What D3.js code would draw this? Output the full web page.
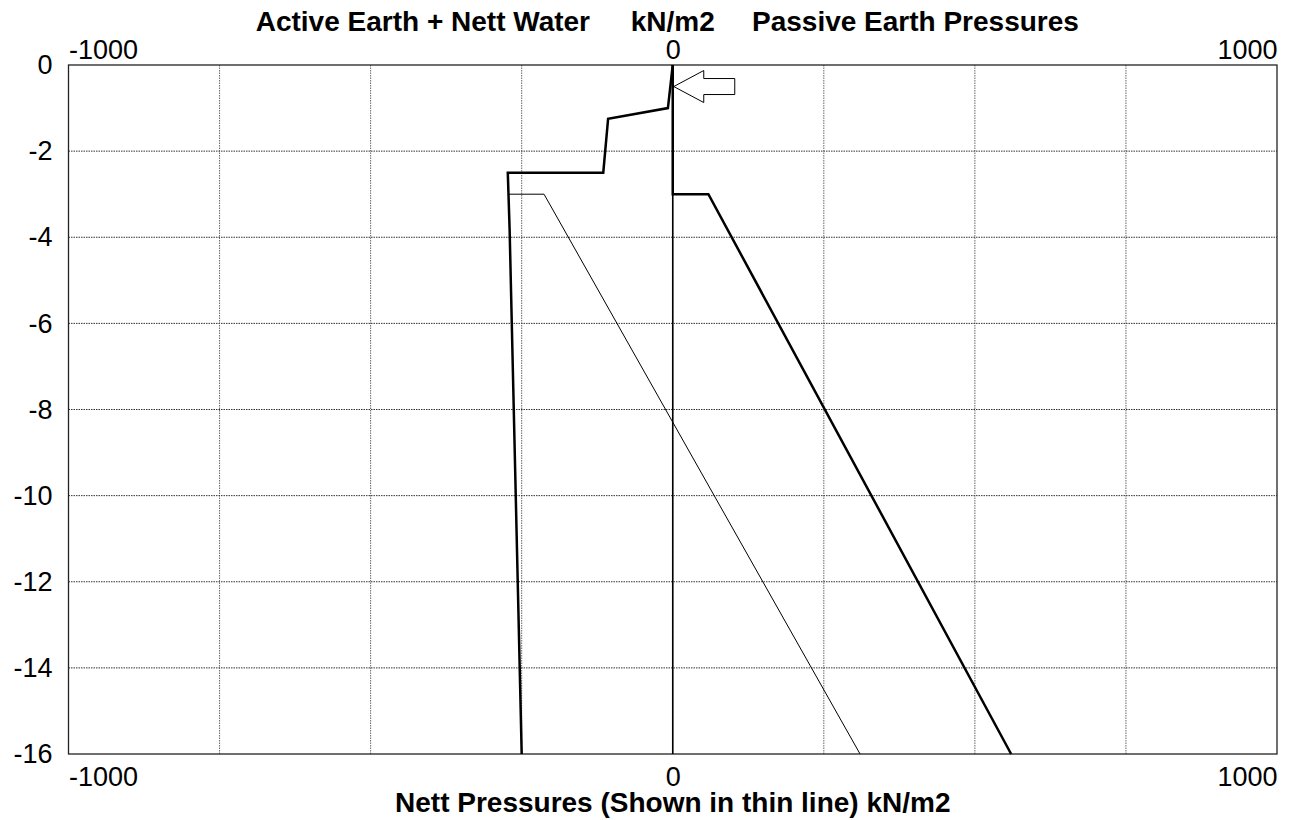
<!DOCTYPE html>
<html>
<head>
<meta charset="utf-8">
<script src="https://cdn.jsdelivr.net/npm/d3@7"></script>
<style>
  html, body { margin: 0; padding: 0; background: #fff; }
  svg { display: block; font-family: "Liberation Sans", Arial, sans-serif; }
</style>
</head>
<body>
<svg id="chart" width="1292" height="820"></svg>
<script>
// ---- data ----
const xTicks = [-1000, 0, 1000];
const yTicks = [0, -2, -4, -6, -8, -10, -12, -14, -16];
const xGrid = [-750, -500, -250, 0, 250, 500, 750];
// Active earth + nett water (thick, left side): [pressure, level]
const activePressure = [0, -8, -107, -115, -273, -270, -250];
const activeLevel    = [0, -1.0, -1.25, -2.5, -2.5, -3.8, -16];
// Passive earth pressures (thick, right side)
const passivePressure = [0, 0, 59, 560];
const passiveLevel    = [0, -3, -3, -16];
// Nett pressures (thin line)
const nettPressure = [-271, -213, 310];
const nettLevel    = [-3, -3, -16];
// Wall
const wallPressure = [0, 0];
const wallLevel = [0, -16];
// Prop level (arrow)
const propLevels = [-0.5];

const titleLeft = "Active Earth + Nett Water";
const titleMid = "kN/m2";
const titleRight = "Passive Earth Pressures";
const bottomTitle = "Nett Pressures (Shown in thin line) kN/m2";

// ---- layout ----
const svg = d3.select("#chart");
const L = 68.5, R = 1277, T = 65, B = 754;
const x = d3.scaleLinear().domain([-1000, 1000]).range([L, R]);
const y = d3.scaleLinear().domain([0, -16]).range([T, B]);
const fmt = d => String(d);

// grid
svg.append("g").selectAll("line").data(xGrid).join("line")
  .attr("x1", d => x(d)).attr("x2", d => x(d))
  .attr("y1", T).attr("y2", B)
  .attr("stroke", "#666").attr("stroke-width", 1).attr("stroke-dasharray", "1.5,1");
svg.append("g").selectAll("line").data(yTicks.slice(1, -1)).join("line")
  .attr("x1", L).attr("x2", R)
  .attr("y1", d => y(d)).attr("y2", d => y(d))
  .attr("stroke", "#333").attr("stroke-width", 1).attr("stroke-dasharray", "1.5,1");

// frame
svg.append("rect").attr("x", L).attr("y", T).attr("width", R - L).attr("height", B - T)
  .attr("fill", "none").attr("stroke", "#222").attr("stroke-width", 1.3);

// axes
const tickFont = "27px";
const ff = "'Liberation Sans', Arial, sans-serif";
const left = svg.append("g").attr("transform", `translate(${L},0)`)
  .call(d3.axisLeft(y).tickValues(yTicks).tickSize(0).tickPadding(16).tickFormat(fmt));
left.select(".domain").remove();
left.selectAll("text").attr("font-size", tickFont).attr("fill", "#000").attr("font-family", ff);

function hAxis(g) {
  g.select(".domain").remove();
  g.selectAll("text").attr("font-size", tickFont).attr("fill", "#000").attr("font-family", ff)
    .attr("text-anchor", (d, i, n) => i === 0 ? "start" : (i === n.length - 1 ? "end" : "middle"));
}
const topAx = svg.append("g").attr("transform", `translate(0,${T})`)
  .call(d3.axisTop(x).tickValues(xTicks).tickSize(0).tickPadding(6).tickFormat(fmt));
hAxis(topAx);
const botAx = svg.append("g").attr("transform", `translate(0,${B})`)
  .call(d3.axisBottom(x).tickValues(xTicks).tickSize(0).tickPadding(13).tickFormat(fmt));
hAxis(botAx);

// lines
const line = d3.line().x(d => x(d[0])).y(d => y(d[1]));
const zip = (a, b) => a.map((v, i) => [v, b[i]]);

svg.append("path").datum(zip(wallPressure, wallLevel)).attr("d", line)
  .attr("fill", "none").attr("stroke", "#000").attr("stroke-width", 1.6);
svg.append("path").datum(zip(nettPressure, nettLevel)).attr("d", line)
  .attr("fill", "none").attr("stroke", "#000").attr("stroke-width", 1);
svg.append("path").datum(zip(activePressure, activeLevel)).attr("d", line)
  .attr("fill", "none").attr("stroke", "#000").attr("stroke-width", 2.5).attr("stroke-linejoin", "miter");
svg.append("path").datum(zip(passivePressure, passiveLevel)).attr("d", line)
  .attr("fill", "none").attr("stroke", "#000").attr("stroke-width", 2.5).attr("stroke-linejoin", "miter");

// prop arrow
svg.append("g").selectAll("path").data(propLevels).join("path")
  .attr("transform", d => `translate(${x(0) + 1},${y(d)})`)
  .attr("d", "M0,0 L30,-16 L30,-8 L61,-8 L61,8 L30,8 L30,16 Z")
  .attr("fill", "#fff").attr("stroke", "#000").attr("stroke-width", 1);

// titles
const titleSize = "28px";
svg.append("text").attr("x", 590).attr("y", 31).attr("text-anchor", "end")
  .attr("font-size", titleSize).attr("font-weight", "bold").attr("font-family", ff).text(titleLeft);
svg.append("text").attr("x", x(0)).attr("y", 31).attr("text-anchor", "middle")
  .attr("font-size", titleSize).attr("font-weight", "bold").attr("font-family", ff).text(titleMid);
svg.append("text").attr("x", 752).attr("y", 31).attr("text-anchor", "start")
  .attr("font-size", titleSize).attr("font-weight", "bold").attr("font-family", ff).text(titleRight);
svg.append("text").attr("x", x(0)).attr("y", 812).attr("text-anchor", "middle")
  .attr("font-size", titleSize).attr("font-weight", "bold").attr("font-family", ff).text(bottomTitle);
</script>
</body>
</html>
